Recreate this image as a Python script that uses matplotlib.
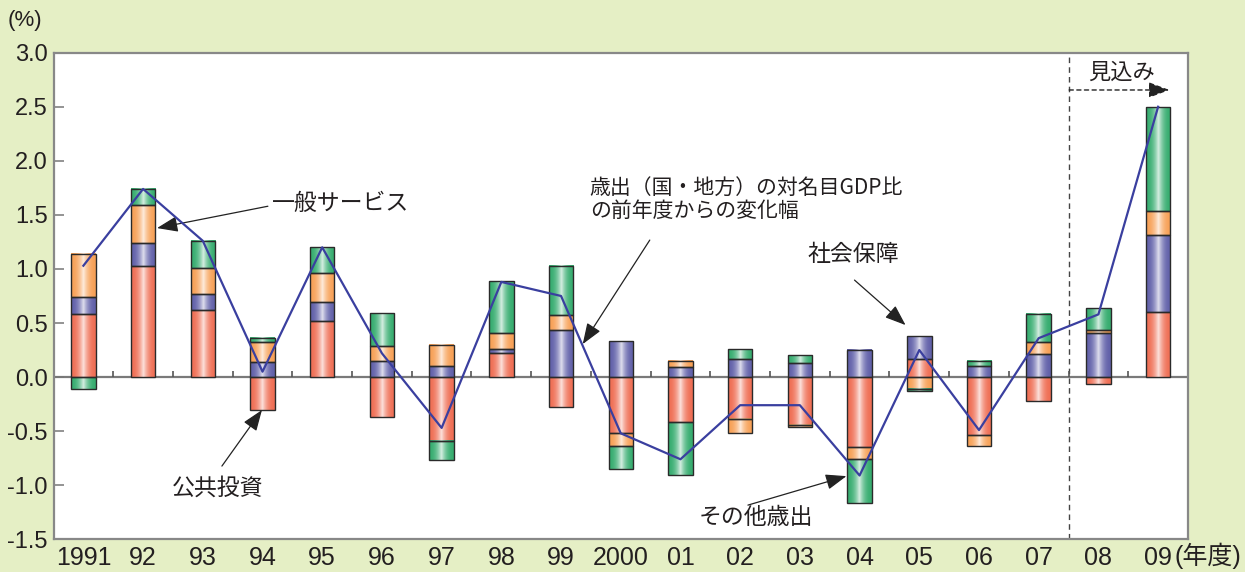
import numpy as np
import matplotlib
matplotlib.use("Agg")
import matplotlib.pyplot as plt
from matplotlib import font_manager
from matplotlib.colors import to_rgb

plt.rcParams['font.family'] = ['Liberation Sans', 'Noto Sans CJK JP', 'DejaVu Sans']

installed = {f.name for f in font_manager.fontManager.ttflist}
narrow = 'Liberation Sans'
for cand in ['Liberation Sans Narrow', 'DejaVu Sans Condensed']:
    if cand in installed:
        narrow = cand
        break

years = ['1991', '92', '93', '94', '95', '96', '97', '98', '99', '2000',
         '01', '02', '03', '04', '05', '06', '07', '08', '09']

# contributions (percentage points)
public_inv = [0.58, 1.03, 0.62, -0.30, 0.52, -0.37, -0.59, 0.22, -0.28, -0.52,
              -0.42, -0.39, -0.44, -0.65, 0.17, -0.54, -0.22, -0.06, 0.60]
social = [0.16, 0.21, 0.15, 0.14, 0.17, 0.15, 0.10, 0.04, 0.44, 0.33,
          0.09, 0.17, 0.13, 0.25, 0.21, 0.10, 0.21, 0.41, 0.71]
general = [0.40, 0.35, 0.24, 0.18, 0.27, 0.14, 0.20, 0.15, 0.13, -0.12,
           0.06, -0.13, -0.02, -0.11, -0.11, -0.10, 0.11, 0.03, 0.23]
other = [-0.11, 0.15, 0.25, 0.04, 0.24, 0.30, -0.18, 0.48, 0.46, -0.21,
         -0.49, 0.09, 0.07, -0.40, -0.02, 0.05, 0.26, 0.20, 0.96]
# change in expenditure / nominal GDP ratio (line)
total = [1.03, 1.74, 1.26, 0.05, 1.20, 0.22, -0.47, 0.88, 0.75, -0.52,
         -0.76, -0.26, -0.26, -0.91, 0.25, -0.49, 0.36, 0.58, 2.50]

series = [public_inv, social, general, other]
colors = ['#ef6f55', '#6261aa', '#f7a157', '#37ad70']

fig = plt.figure(figsize=(12.45, 5.72), dpi=100, facecolor='#e5efc5')
ax = fig.add_axes([0.0430, 0.0572, 0.9112, 0.8507])
ax.set_facecolor('white')

x = np.arange(len(years))
w = 0.41
pos = np.zeros(len(x))
neg = np.zeros(len(x))


def shade(col, n=64):
    base = np.array(to_rgb(col))
    t = np.linspace(0, 1, n)
    k = np.clip(1 - np.abs(t - 0.5) * 2.0, 0, 1) ** 2.2
    rgb = base[None, :] + (1 - base[None, :]) * (0.80 * k)[:, None]
    return rgb[None, :, :]


for vals, col in zip(series, colors):
    v = np.array(vals)
    bottom = np.where(v >= 0, pos, neg)
    bars = ax.bar(x, v, w, bottom=bottom, color=col, edgecolor='none', zorder=2)
    img = shade(col)
    for b in bars:
        y0 = b.get_y()
        y1 = y0 + b.get_height()
        ax.imshow(img, extent=(b.get_x(), b.get_x() + b.get_width(), min(y0, y1), max(y0, y1)),
                  aspect='auto', interpolation='bilinear', zorder=2.5)
    ax.bar(x, v, w, bottom=bottom, fill=False, edgecolor='#2a2a2a', lw=1.0, zorder=3)
    pos += np.clip(v, 0, None)
    neg += np.clip(v, None, 0)

ax.axhline(0, color='#7a7a7a', lw=1.6, zorder=1.5)
ax.vlines(x[:-1] + 0.5, 0, 0.055, color='#555555', lw=1.2, zorder=1.5)

ax.plot(x, total, color='#3a3f9f', lw=1.6, zorder=4)

ax.set_xlim(-0.5, len(x) - 0.5)
ax.set_ylim(-1.5, 3.0)
ax.set_yticks(np.arange(-1.5, 3.01, 0.5))
ax.set_yticklabels(['%.1f' % t for t in np.arange(-1.5, 3.01, 0.5)], fontsize=17, color='#231f20')
ax.tick_params(axis='y', direction='in', length=7, width=1.1, color='#777777', pad=4)
ax.set_xticks(x)
ax.set_xticklabels(years, fontsize=18, family=[narrow, 'DejaVu Sans'], color='#231f20')
ax.tick_params(axis='x', length=0, pad=5)
for s in ax.spines.values():
    s.set_color('#888888')
    s.set_linewidth(1.6)

# forecast divider
ax.axvline(16.5, color='#444444', lw=1.0, ls=(0, (4, 3)), zorder=1)
ax.annotate('', xy=(18.19, 2.655), xytext=(16.51, 2.655),
            arrowprops=dict(arrowstyle='-|>,head_length=0.8,head_width=0.3', color='#222222',
                            lw=1.0, ls=(0, (3, 2.5)), shrinkA=0, shrinkB=0, mutation_scale=16))
ax.text(17.39, 2.82, '見込み', fontsize=16, family=['Noto Sans CJK JP'], ha='center', va='center',
        color='#231f20')

jp = ['Noto Sans CJK JP', 'DejaVu Sans']
arw = dict(arrowstyle='-|>,head_length=0.8,head_width=0.3', color='#222222', lw=0.9,
           shrinkA=0, shrinkB=0, mutation_scale=16)

ax.text(3.16, 1.61, '一般サービス', fontsize=16.5, family=jp, ha='left', va='center', color='#231f20')
ax.annotate('', xy=(1.233, 1.378), xytext=(3.09, 1.58), arrowprops=arw)

ax.text(8.48, 1.64, '歳出（国・地方）の対名目GDP比\nの前年度からの変化幅', fontsize=15, family=jp,
        ha='left', va='center', linespacing=1.05, color='#231f20')
ax.annotate('', xy=(8.363, 0.305), xytext=(9.486, 1.267), arrowprops=arw)

ax.text(12.9, 1.13, '社会保障', fontsize=16.5, family=jp, ha='center', va='center', color='#231f20')
ax.annotate('', xy=(13.77, 0.481), xytext=(12.915, 0.897), arrowprops=arw)

ax.text(2.245, -1.027, '公共投資', fontsize=16.5, family=jp, ha='center', va='center', color='#231f20')
ax.annotate('', xy=(2.99, -0.305), xytext=(2.32, -0.823), arrowprops=arw)

ax.text(11.26, -1.295, 'その他歳出', fontsize=16.5, family=jp, ha='center', va='center', color='#231f20')
ax.annotate('', xy=(12.78, -0.916), xytext=(11.13, -1.184), arrowprops=arw)

fig.text(0.006, 0.965, '(%)', fontsize=16, ha='left', va='center', color='#231f20')
fig.text(1174 / 1245, 1 - 556 / 572, '(年度)', fontsize=18,
         family=[narrow, 'Noto Sans CJK JP'], ha='left', va='center', color='#231f20')

fig.savefig('out.png', dpi=100, facecolor=fig.get_facecolor())
